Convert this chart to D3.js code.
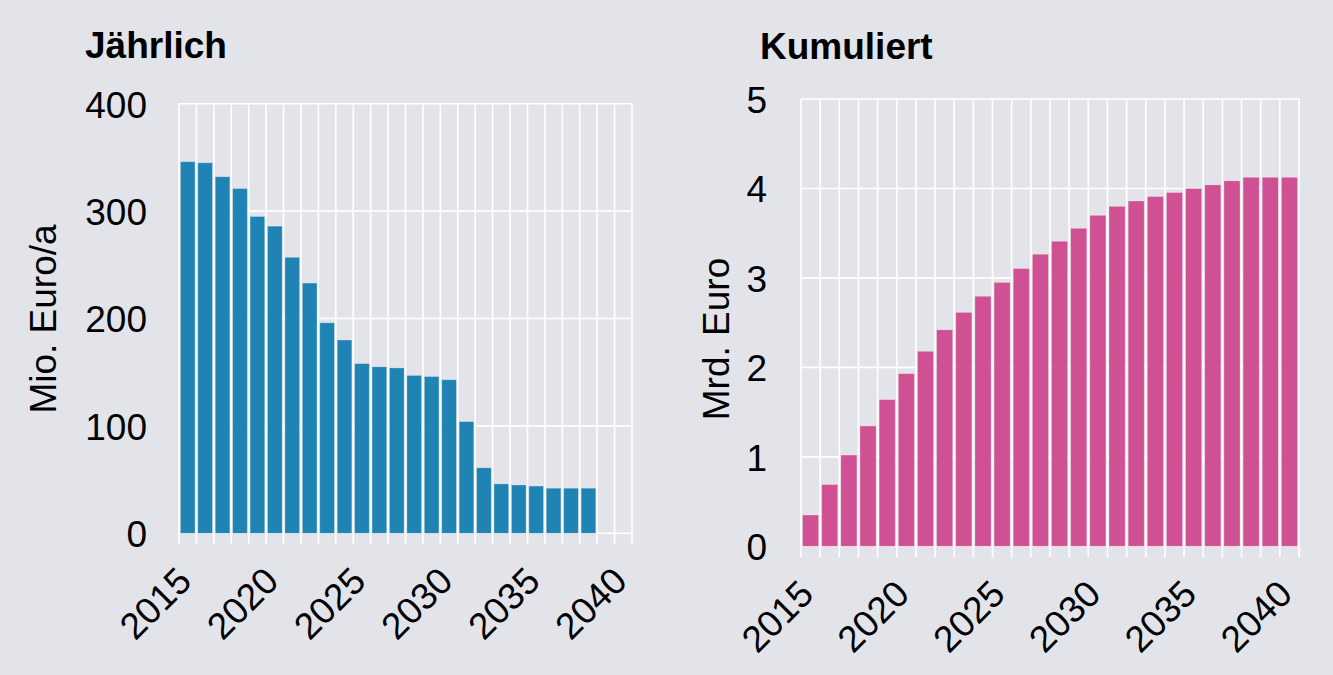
<!DOCTYPE html>
<html>
<head>
<meta charset="utf-8">
<script src="https://cdn.jsdelivr.net/npm/d3@7"></script>
<style>
  html, body { margin: 0; padding: 0; background: #e3e4e9; }
  svg { display: block; }
  text { font-family: "Liberation Sans", Arial, sans-serif; fill: #000; }
</style>
</head>
<body>
<svg id="CHART" width="1333" height="675"></svg>
<script>
// data
var yearsAnnual = [2015, 2016, 2017, 2018, 2019, 2020, 2021, 2022, 2023, 2024, 2025, 2026,
                   2027, 2028, 2029, 2030, 2031, 2032, 2033, 2034, 2035, 2036, 2037, 2038];
var annual = [346, 345, 332, 321, 295, 286, 257, 233, 196, 180, 158, 155,
              154, 147, 146, 143, 104, 61, 46, 45, 44, 42, 42, 42];

var yearsCum = [2015, 2016, 2017, 2018, 2019, 2020, 2021, 2022, 2023, 2024, 2025, 2026, 2027,
                2028, 2029, 2030, 2031, 2032, 2033, 2034, 2035, 2036, 2037, 2038, 2039, 2040];
var cumulative = [0.35, 0.69, 1.02, 1.345, 1.64, 1.93, 2.18, 2.42, 2.615, 2.795, 2.95, 3.105, 3.265,
                  3.41, 3.555, 3.70, 3.80, 3.86, 3.91, 3.955, 4.0, 4.04, 4.085, 4.125, 4.125, 4.125];

var xTicks = [2015, 2020, 2025, 2030, 2035, 2040];
var gridYears = d3.range(2015, 2042);
var leftYTicks = [0, 100, 200, 300, 400];
var rightYTicks = [0, 1, 2, 3, 4, 5];

var svg = d3.select("#CHART");

function panel(opt) {
  var x = d3.scaleLinear().domain([2015, 2041]).range([opt.left, opt.right]);
  var y = d3.scaleLinear().domain([0, opt.yMax]).range([opt.bottom, opt.top]);
  var step = x(2016) - x(2015);
  var g = svg.append("g");

  // horizontal grid
  g.selectAll(".hgrid")
    .data(opt.yTicks)
    .enter().append("line")
    .attr("x1", opt.left).attr("x2", opt.right)
    .attr("y1", function(d) { return y(d); })
    .attr("y2", function(d) { return y(d); })
    .attr("stroke", "#fff").attr("stroke-width", 1.6);

  // vertical grid + tick marks below the axis
  g.selectAll(".vgrid")
    .data(gridYears)
    .enter().append("line")
    .attr("x1", function(d) { return x(d); })
    .attr("x2", function(d) { return x(d); })
    .attr("y1", opt.top).attr("y2", opt.bottom + 11)
    .attr("stroke", "#fff").attr("stroke-width", 1.6);

  // bars
  g.selectAll(".bar")
    .data(opt.values)
    .enter().append("rect")
    .attr("x", function(d, i) { return x(opt.years[i]) + step * 0.08; })
    .attr("width", step * 0.84)
    .attr("y", function(d) { return y(d); })
    .attr("height", function(d) { return opt.bottom - y(d); })
    .attr("fill", opt.color)
    .attr("stroke", "rgba(255,255,255,0.35)")
    .attr("stroke-width", 0.8);

  // y tick labels
  var yAxis = d3.axisLeft(y).tickValues(opt.yTicks).tickSize(0).tickPadding(0)
    .tickFormat(d3.format("d"));
  g.append("g")
    .attr("transform", "translate(" + (opt.left - opt.labelGap) + ",0)")
    .call(yAxis)
    .call(function(a) { a.select(".domain").remove(); })
    .selectAll("text")
    .attr("font-size", 37)
    .attr("dy", "0.36em")
    .style("fill", "#000");

  // x tick labels, rotated
  var xAxis = d3.axisBottom(x).tickValues(xTicks).tickSize(0).tickFormat(d3.format("d"));
  g.append("g")
    .attr("transform", "translate(0," + opt.bottom + ")")
    .call(xAxis)
    .call(function(a) { a.select(".domain").remove(); })
    .selectAll("text")
    .attr("font-size", 37)
    .attr("x", 0).attr("y", 0).attr("dy", 0)
    .attr("text-anchor", "end")
    .attr("transform", "translate(14,50) rotate(-45)")
    .style("fill", "#000");

  // axis title
  g.append("text")
    .attr("transform", "translate(" + opt.titleX + "," + opt.titleY + ") rotate(-90)")
    .attr("text-anchor", "middle")
    .attr("font-size", 37)
    .text(opt.yTitle);

  // panel heading
  g.append("text")
    .attr("x", opt.headX).attr("y", opt.headY)
    .attr("font-size", 37)
    .attr("font-weight", "bold")
    .text(opt.head);
}

panel({
  left: 179, right: 632, top: 103.7, bottom: 533.3, yMax: 400,
  yTicks: leftYTicks, years: yearsAnnual, values: annual, color: "#1f83b4",
  labelGap: 32, yTitle: "Mio. Euro/a", titleX: 56, titleY: 319,
  head: "Jährlich", headX: 85, headY: 58
});

panel({
  left: 801, right: 1299, top: 99, bottom: 546.3, yMax: 5,
  yTicks: rightYTicks, years: yearsCum, values: cumulative, color: "#cf5193",
  labelGap: 34, yTitle: "Mrd. Euro", titleX: 729, titleY: 339,
  head: "Kumuliert", headX: 760, headY: 59
});
</script>
</body>
</html>
